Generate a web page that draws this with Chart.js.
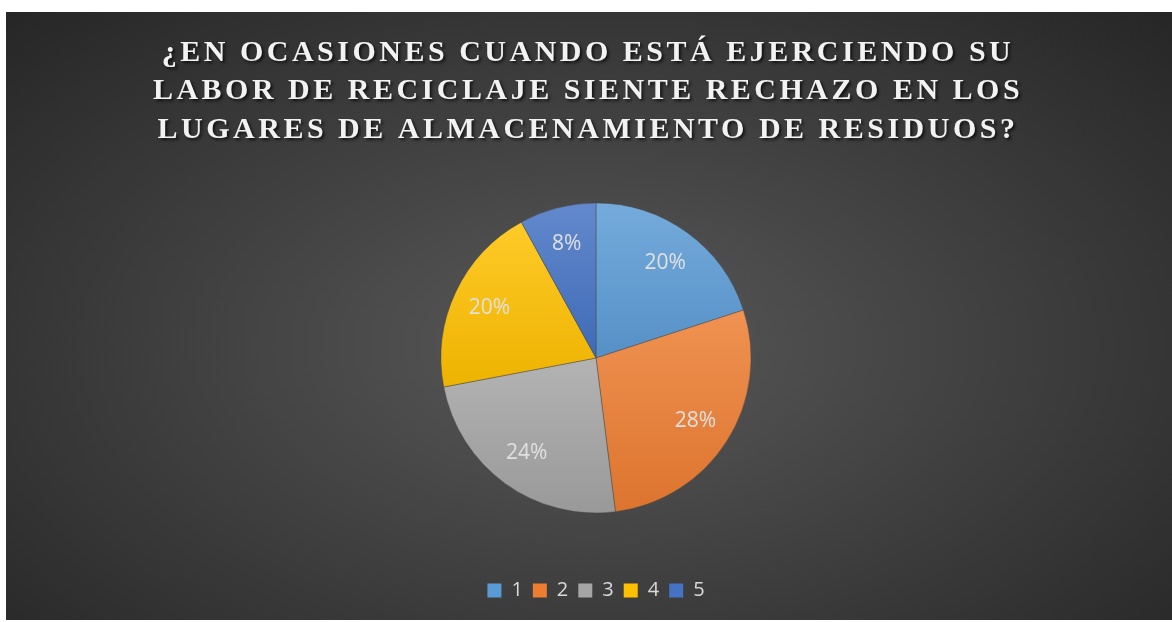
<!DOCTYPE html>
<html>
<head>
<meta charset="utf-8">
<script src="https://cdn.jsdelivr.net/npm/chart.js@4/dist/chart.umd.min.js"></script>
<style>
  html, body { margin: 0; padding: 0; background: #ffffff; width: 1172px; height: 622px; overflow: hidden; }
  #frame {
    position: absolute; left: 6px; top: 12px; width: 1166px; height: 608px;
    background: radial-gradient(ellipse farthest-corner at 50% 55%, #595959 0%, #262626 100%);
  }
  canvas { display: block; }
</style>
</head>
<body>
<div id="frame"><canvas id="c" width="1166" height="608"></canvas></div>
<script>
const titleLines = [
  "¿EN OCASIONES CUANDO ESTÁ EJERCIENDO SU",
  "LABOR DE RECICLAJE SIENTE RECHAZO EN LOS",
  "LUGARES DE ALMACENAMIENTO DE RESIDUOS?"
];
const categories = ["1", "2", "3", "4", "5"];
const values = [20, 28, 24, 20, 8];
const baseColors = ["#5B9BD5", "#ED7D31", "#A5A5A5", "#FFC000", "#4472C4"];

const PIE_RADIUS = 155;

function hexToRgb(h) {
  const n = parseInt(h.slice(1), 16);
  return [(n >> 16) & 255, (n >> 8) & 255, n & 255];
}
function mix(h, target, t) {
  const c = hexToRgb(h);
  return "rgb(" + c.map(v => Math.round(v + (target - v) * t)).join(",") + ")";
}

function sliceGradient(context) {
  const i = context.dataIndex;
  const base = baseColors[i];
  const chart = context.chart;
  const area = chart.chartArea;
  if (!area || context.type !== "data") return base;
  const cx = (area.left + area.right) / 2;
  const cy = (area.top + area.bottom) / 2;
  const total = values.reduce((a, b) => a + b, 0);
  let before = 0;
  for (let k = 0; k < i; k++) before += values[k];
  const a0 = -Math.PI / 2 + 2 * Math.PI * before / total;
  const a1 = a0 + 2 * Math.PI * values[i] / total;
  const ys = [cy, cy + PIE_RADIUS * Math.sin(a0), cy + PIE_RADIUS * Math.sin(a1)];
  for (const c of [-Math.PI / 2, Math.PI / 2, 3 * Math.PI / 2]) {
    if (c > a0 && c < a1) ys.push(cy + PIE_RADIUS * Math.sin(c));
  }
  const yMin = Math.min(...ys), yMax = Math.max(...ys);
  const g = chart.ctx.createLinearGradient(0, yMin, 0, yMax);
  g.addColorStop(0, mix(base, 255, 0.16));
  g.addColorStop(1, mix(base, 0, 0.07));
  return g;
}

const pieLabels = {
  id: "pieLabels",
  afterDatasetsDraw(chart) {
    const ctx = chart.ctx;
    const meta = chart.getDatasetMeta(0);
    const total = values.reduce((a, b) => a + b, 0);
    ctx.save();
    ctx.font = "21px 'Open Sans'";
    ctx.fillStyle = "#e0e0e0";
    ctx.textAlign = "center";
    ctx.textBaseline = "middle";
    meta.data.forEach((arc, i) => {
      const p = arc.getProps(["x", "y", "startAngle", "endAngle", "outerRadius"], true);
      const mid = (p.startAngle + p.endAngle) / 2;
      const r = p.outerRadius * 0.76;
      const txt = Math.round(values[i] / total * 100) + "%";
      ctx.fillText(txt, p.x + Math.cos(mid) * r, p.y + Math.sin(mid) * r);
    });
    ctx.restore();
  }
};

const titleStyle = {
  id: "titleStyle",
  beforeDraw(chart) {
    const tb = chart.titleBlock;
    if (tb && !tb._styled) {
      const orig = tb.draw.bind(tb);
      tb.draw = function () {
        const ctx = this.ctx;
        ctx.save();
        ctx.translate(-8, 0);
        ctx.letterSpacing = "3.5px";
        ctx.shadowColor = "rgba(0,0,0,0.7)";
        ctx.shadowOffsetX = 2;
        ctx.shadowOffsetY = 2;
        ctx.shadowBlur = 3;
        orig();
        ctx.restore();
      };
      tb._styled = true;
    }
  }
};

new Chart(document.getElementById("c"), {
  type: "pie",
  data: {
    labels: categories,
    datasets: [{
      data: values,
      backgroundColor: sliceGradient,
      borderColor: "rgba(70,70,70,0.6)",
      borderWidth: 0.75,
      radius: PIE_RADIUS
    }]
  },
  options: {
    responsive: false,
    animation: false,
    layout: { padding: { left: 14, right: 0, top: 0, bottom: 9.5 } },
    plugins: {
      tooltip: { enabled: false },
      title: {
        display: true,
        text: titleLines,
        color: "#f2f2f2",
        font: { family: "'Liberation Serif', 'Times New Roman', serif", size: 30, weight: "bold", lineHeight: 1.283 },
        padding: { top: 22, bottom: -4 }
      },
      legend: {
        position: "bottom",
        labels: {
          color: "#d9d9d9",
          font: { family: "'Open Sans'", size: 20 },
          boxWidth: 14,
          boxHeight: 14,
          padding: 10,
          generateLabels(chart) {
            return categories.map((c, i) => ({
              text: c,
              fillStyle: baseColors[i],
              strokeStyle: "rgba(0,0,0,0)",
              lineWidth: 0,
              fontColor: "#d9d9d9",
              hidden: false,
              index: i
            }));
          }
        }
      }
    }
  },
  plugins: [pieLabels, titleStyle]
});
</script>
</body>
</html>
